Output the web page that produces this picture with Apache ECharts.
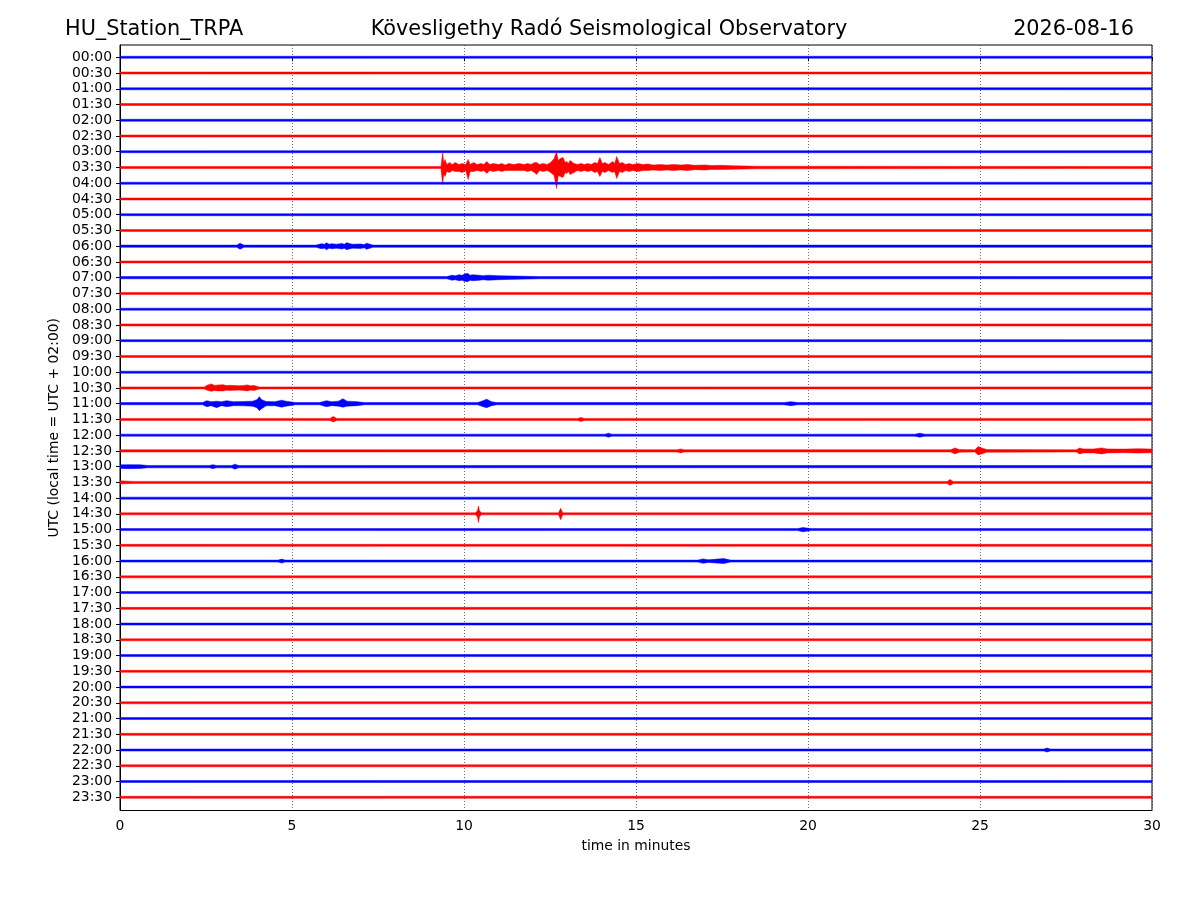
<!DOCTYPE html>
<html><head><meta charset="utf-8">
<script src="https://cdn.jsdelivr.net/npm/echarts@6/dist/echarts.min.js"></script>
<style>html,body{margin:0;padding:0;background:#fff}#c{width:1200px;height:900px}</style>
</head><body><div id="c"></div>
<script>
// ---- labels ----
const stationName = 'HU_Station_TRPA';
const observatoryName = 'Kövesligethy Radó Seismological Observatory';
const dateLabel = '2026-08-16';
const timeLabels = ['00:00','00:30','01:00','01:30','02:00','02:30','03:00','03:30','04:00','04:30',
  '05:00','05:30','06:00','06:30','07:00','07:30','08:00','08:30','09:00','09:30',
  '10:00','10:30','11:00','11:30','12:00','12:30','13:00','13:30','14:00','14:30',
  '15:00','15:30','16:00','16:30','17:00','17:30','18:00','18:30','19:00','19:30',
  '20:00','20:30','21:00','21:30','22:00','22:30','23:00','23:30'];
const xTicks = [0, 5, 10, 15, 20, 25, 30];

// ---- background noise half-amplitude per trace (relative amplitude units) ----
const baseAmp = [1.0,1.0,1.0,1.0,1.0,1.0,1.0,1.0,1.0,1.0,
  1.0,1.0,1.1,1.0,1.1,1.0,1.0,1.0,1.0,1.0,
  1.0,1.0,1.1,1.0,1.0,1.1,1.2,1.0,1.0,1.0,
  1.0,1.0,1.0,1.0,1.0,1.0,1.0,1.0,1.0,1.0,
  1.0,1.0,1.0,1.0,1.0,1.0,1.0,1.0];

// ---- event envelopes: [minute, upAmp, downAmp] ----
const evt0330 = [[9.33,1.0,1.0],[9.38,15,17],[9.41,5,7],[9.45,8,9],[9.5,3,4],[9.58,5,5],[9.66,3,3],[9.75,5,4],[9.85,3,4],
  [9.95,4,5],[10.05,3,3],[10.12,8,12],[10.18,3,4],[10.28,5,4],[10.38,3,3],[10.5,4,4],[10.58,3,3],[10.66,6,6],[10.75,3,3],[10.85,4,4],[11.0,3,3],
  [11.1,4,4],[11.2,2.5,3],[11.3,4,3],[11.45,3,3],[11.6,4,3],[11.75,3,3],[11.85,4,4],[11.95,3,3],[12.05,5,5],[12.11,5,7],[12.2,3,3],[12.3,4,4],[12.42,3,3],[12.52,5,5],
  [12.62,9,8],[12.69,16,21],[12.74,7,8],[12.8,9,9],[12.88,10,10],[12.94,5,5],[12.98,6,6],[13.04,4,4],[13.08,7,7],[13.2,4,5],
  [13.3,3,3],[13.4,4,4],[13.5,3,3],[13.6,4,4],[13.7,3,3],[13.8,5,5],[13.88,4,4],[13.95,10,9],[14.02,4,4],[14.1,5,5],[14.2,3,3],[14.32,6,5],[14.38,4,4],[14.44,11,11],
  [14.52,4,4],[14.6,5,5],[14.7,3,3],[14.8,4,4],[14.9,3,3],[15.05,4,4],[15.2,3,3],[15.35,3.5,3],[15.5,2.5,2.5],[15.7,3,3],[15.9,2.5,2.5],[16.1,3,3],[16.3,2.5,2.5],[16.5,3,3],[16.7,2.2,2.2],
  [17.0,2.5,2.5],[17.2,2,2],[17.5,2.2,2],[17.8,1.8,1.8],[18.5,1.3,1.3]];
const evt0600 = [[3.4,1.1,1.1],[3.49,3,3],[3.6,1.1,1.1],[5.7,1.1,1.1],[5.85,2.5,2.5],[5.95,2,2],[6.0,3.5,3.5],
  [6.08,2,2],[6.15,2.5,2.5],[6.3,2.0,2.0],[6.45,2.8,2.8],[6.52,2,2],[6.59,3.5,3.5],[6.75,2,2],[7.0,2.2,2.2],[7.1,1.6,1.6],[7.17,3,3],[7.35,1.1,1.1]];
const evt0700 = [[9.5,1.1,1.1],[9.65,2.5,2.5],[9.75,2,2],[9.85,3,3],[9.95,2.5,2.5],[10.0,3.5,3.5],[10.1,4.4,4],[10.18,2.5,2.5],[10.25,3,3],
  [10.45,2.5,2.5],[10.55,2,2],[10.7,2.5,2.5],[11.0,2,2],[11.5,1.6,1.6],[12.2,1.1,1.1]];
const evt1030 = [[2.45,1.0,1.0],[2.55,3,2.5],[2.66,4,3.4],[2.75,2.5,2.5],[2.85,3,3],[3.0,3.2,3],[3.1,2.3,2.3],[3.2,2.6,2.6],
  [3.45,2.2,2.2],[3.6,2.5,2.5],[3.7,3,3],[3.8,2.2,2.2],[3.9,2.5,2.5],[4.05,1.0,1.0]];
const evt1100 = [[2.4,1.1,1.1],[2.52,3,3],[2.65,2,2],[2.81,2.5,4],[2.95,2,2],[3.1,3,3],[3.3,2,2],
  [3.6,2.2,2.2],[3.85,2.5,2.5],[3.98,4,4],[4.05,7,7],[4.12,4,5],[4.25,2.2,2.2],[4.5,2,2],
  [4.7,3.5,3.5],[4.82,2.5,2.5],[4.94,2,2],[5.1,1.1,1.1],[5.8,1.1,1.1],[6.0,3,3],[6.15,2,2],
  [6.35,2.5,2.5],[6.48,5,3.5],[6.6,2.5,2.5],[6.9,2,2],[7.1,1.1,1.1],[10.4,1.1,1.1],[10.55,3,3],
  [10.66,4.5,4],[10.8,2,2],[10.95,1.1,1.1],[19.3,1.1,1.1],[19.5,2,2],[19.7,1.1,1.1]];
const evt1130 = [[6.1,1.0,1.0],[6.2,3,2.5],[6.3,1.0,1.0],[13.3,1.0,1.0],[13.4,2,2],[13.5,1.0,1.0]];
const evt1200 = [[14.1,1.0,1.0],[14.2,2,2],[14.3,1.0,1.0],[23.1,1.0,1.0],[23.25,2,2],[23.4,1.0,1.0]];
const evt1230 = [[16.2,1.1,1.1],[16.3,2,2],[16.4,1.1,1.1],[24.15,1.1,1.1],[24.27,3,3],[24.4,1.3,1.3],
  [24.85,1.1,1.1],[24.95,4.3,4],[25.05,3,3],[25.2,1.3,1.3],[27.8,1.1,1.1],[27.9,3,3],[28.0,2,2],
  [28.3,2,2],[28.54,3,3],[28.7,2,2],[29.2,1.8,1.8],[29.6,2.2,2.2],[30,1.8,1.8]];
const evt1300 = [[0,1.8,1.8],[0.3,2.0,2.0],[0.6,1.8,1.8],[0.8,1.2,1.2],[2.6,1.2,1.2],[2.7,2,2],[2.8,1.2,1.2],
  [3.25,1.2,1.2],[3.34,2.5,2.5],[3.45,1.2,1.2]];
const evt1330 = [[0,1.6,1.6],[0.4,1.0,1.0],[24.05,1.0,1.0],[24.13,3,3],[24.22,1.0,1.0]];
const evt1430 = [[10.33,1.0,1.0],[10.39,3,3],[10.42,8,8.7],[10.45,3,3],[10.51,1.0,1.0],
  [12.75,1.0,1.0],[12.81,5.7,6],[12.87,1.0,1.0]];
const evt1500 = [[19.7,1.0,1.0],[19.85,2,2.2],[20.1,1.0,1.0]];
const evt1600 = [[4.6,1.0,1.0],[4.7,2,2],[4.8,1.0,1.0],[16.8,1.0,1.0],[16.95,2.2,2.2],[17.1,1.3,1.3],
  [17.55,2.5,2.5],[17.75,1.0,1.0]];
const evt2200 = [[26.85,1.0,1.0],[26.95,2,2],[27.05,1.0,1.0]];

const eventsByTrace = {7: evt0330, 12: evt0600, 14: evt0700, 21: evt1030, 22: evt1100, 23: evt1130,
  24: evt1200, 25: evt1230, 26: evt1300, 27: evt1330, 29: evt1430, 30: evt1500, 32: evt1600, 44: evt2200};

// ---- styling / scale ----
const ampUnit = 1 / 15.75;           // relative amplitude -> trace spacing
const traceColors = ['#0000ff', '#ff0000'];
const FONT = 'DejaVu Sans';

function envelope(i) {
  const b = baseAmp[i];
  const ev = eventsByTrace[i] || [];
  const pts = [[0, b, b]];
  ev.forEach(p => pts.push(p));
  pts.push([30, b, b]);
  return pts;
}

const traceData = timeLabels.map((_, i) => [0, i]);

const chart = echarts.init(document.getElementById('c'), null, {renderer: 'canvas'});
chart.setOption({
  animation: false,
  backgroundColor: '#fff',
  textStyle: {fontFamily: FONT},
  graphic: [
    {type: 'text', x: 65, y: 29.5, style: {text: stationName, font: '20.8px "DejaVu Sans"', fill: '#000', textAlign: 'left', textVerticalAlign: 'middle'}},
    {type: 'text', x: 609, y: 29.5, style: {text: observatoryName, font: '20.8px "DejaVu Sans"', fill: '#000', textAlign: 'center', textVerticalAlign: 'middle'}},
    {type: 'text', x: 1134, y: 29.5, style: {text: dateLabel, font: '20.8px "DejaVu Sans"', fill: '#000', textAlign: 'right', textVerticalAlign: 'middle'}}
  ],
  grid: {left: 120, right: 48, top: 45, bottom: 89.5, show: true, borderColor: '#000', borderWidth: 1, backgroundColor: 'transparent'},
  xAxis: {
    type: 'value', min: 0, max: 30, interval: 5,
    name: 'time in minutes', nameLocation: 'middle', nameGap: 29,
    nameTextStyle: {fontSize: 13.9, color: '#000', fontFamily: FONT},
    axisLine: {show: true, lineStyle: {color: '#000', width: 1}},
    axisTick: {show: true, length: 4, lineStyle: {color: '#000'}},
    axisLabel: {fontSize: 13.9, color: '#000', margin: 9, fontFamily: FONT,
      formatter: v => xTicks.indexOf(v) >= 0 ? String(v) : ''},
    splitLine: {show: true, lineStyle: {color: '#444', width: 0.8, type: [1, 2]}}
  },
  yAxis: {
    type: 'value', inverse: true, min: -0.78, max: 47.84,
    name: 'UTC (local time = UTC + 02:00)', nameLocation: 'middle', nameGap: 52, nameRotate: 90,
    nameTextStyle: {fontSize: 13.9, color: '#000', fontFamily: FONT},
    axisLine: {show: true, lineStyle: {color: '#000', width: 1}},
    axisTick: {show: true, length: 4, lineStyle: {color: '#000'}, customValues: timeLabels.map((_, i) => i)},
    axisLabel: {fontSize: 13.9, color: '#000', margin: 8, fontFamily: FONT,
      customValues: timeLabels.map((_, i) => i),
      formatter: v => timeLabels[Math.round(v)]},
    splitLine: {show: false}
  },
  series: [{
    type: 'custom',
    clip: true,
    data: traceData,
    encode: {x: 0, y: 1},
    renderItem: function (params, api) {
      const i = api.value(1);
      const env = envelope(i);
      const top = env.map(p => api.coord([p[0], i - p[1] * ampUnit]));
      const bot = env.slice().reverse().map(p => api.coord([p[0], i + p[2] * ampUnit]));
      const col = traceColors[i % 2];
      return {type: 'polygon', shape: {points: top.concat(bot)},
        style: {fill: col, stroke: col, lineWidth: 0.5}};
    },
    z: 5
  }]
});
</script></body></html>
